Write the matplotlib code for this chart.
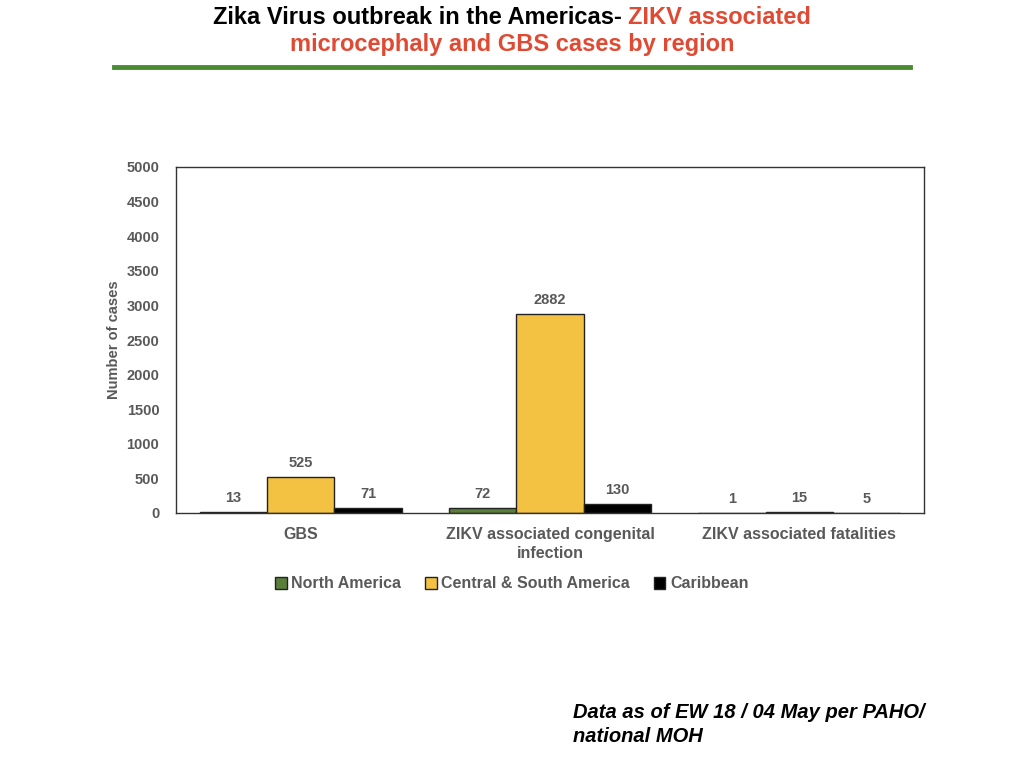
import matplotlib
matplotlib.use("Agg")
import matplotlib.pyplot as plt
import numpy as np
from matplotlib import font_manager

categories = ["GBS", "ZIKV associated congenital\ninfection", "ZIKV associated fatalities"]
series_names = ["North America", "Central & South America", "Caribbean"]
north_america = [13, 72, 1]
central_south = [525, 2882, 15]
caribbean = [71, 130, 5]
yticks = [0, 500, 1000, 1500, 2000, 2500, 3000, 3500, 4000, 4500, 5000]

names = {f.name for f in font_manager.fontManager.ttflist}
narrow = "Liberation Sans Narrow" if "Liberation Sans Narrow" in names else "Liberation Sans"
plt.rcParams['font.family'] = [narrow, 'DejaVu Sans']

gray = "#595959"
colors = ["#5a7f3a", "#f4c242", "#000000"]

fig = plt.figure(figsize=(10.24, 7.68), dpi=100)
W, H = 1024, 768
ax = fig.add_axes([176 / W, 1 - 513 / H, (924 - 176) / W, (513 - 167) / H])

x = np.arange(len(categories))
bw = 0.27
data = [north_america, central_south, caribbean]
for i, (vals, c, nm) in enumerate(zip(data, colors, series_names)):
    pos = x + (i - 1) * bw
    ax.bar(pos, vals, bw, color=c, edgecolor="#222222", linewidth=1.0, label=nm)
    for p, v in zip(pos, vals):
        ax.text(p, v + 100, str(v), ha="center", va="bottom", fontsize=10.5,
                fontweight="bold", color=gray)

ax.set_xlim(-0.5, 2.5)
ax.set_ylim(0, 5000)
ax.set_yticks(yticks)
ax.set_yticklabels([str(t) for t in yticks], fontsize=10.5, fontweight="bold", color=gray)
ax.set_xticks(x)
ax.set_xticklabels(categories, fontsize=11.5, fontweight="bold", color=gray, linespacing=1.35)
ax.tick_params(axis="y", length=0, pad=12)
ax.tick_params(axis="x", length=0, pad=10)
for s in ax.spines.values():
    s.set_color("#333333")
    s.set_linewidth(1.0)
ax.set_ylabel("Number of cases", fontsize=10.5, fontweight="bold", color=gray, labelpad=4)

leg = fig.legend(loc="center", bbox_to_anchor=(512 / W, 1 - 584 / H), ncol=3, frameon=False,
                 handlelength=0.7, handleheight=0.7, handletextpad=0.3,
                 columnspacing=1.5, prop={"weight": "bold", "size": 11.5})
for t in leg.get_texts():
    t.set_color(gray)

# Title
fig.canvas.draw()
r = fig.canvas.get_renderer()
t1 = fig.text(0, 1 - 17 / H, "Zika Virus outbreak in the Americas- ", fontsize=17,
              fontweight="bold", color="black", ha="left", va="center")
t2 = fig.text(0, 1 - 17 / H, "ZIKV associated", fontsize=17,
              fontweight="bold", color="#e04a33", ha="left", va="center")
w1 = t1.get_window_extent(r).width
w2 = t2.get_window_extent(r).width
start = 512 - (w1 + w2) / 2
t1.set_x(start / W)
t2.set_x((start + w1) / W)
fig.text(512 / W, 1 - 45 / H, "microcephaly and GBS cases by region", fontsize=17,
         fontweight="bold", color="#e04a33", ha="center", va="center")
fig.add_artist(plt.Line2D([114 / W, 910 / W], [1 - 67 / H, 1 - 67 / H], color="#4a8c34",
                          linewidth=3.5, transform=fig.transFigure))

fig.text(573 / W, 1 - 713 / H, "Data as of EW 18 / 04 May per PAHO/", fontsize=14.5,
         fontweight="bold", style="italic", color="black", ha="left", va="center")
fig.text(573 / W, 1 - 737 / H, "national MOH", fontsize=14.5,
         fontweight="bold", style="italic", color="black", ha="left", va="center")

fig.savefig("out.png", dpi=100)
